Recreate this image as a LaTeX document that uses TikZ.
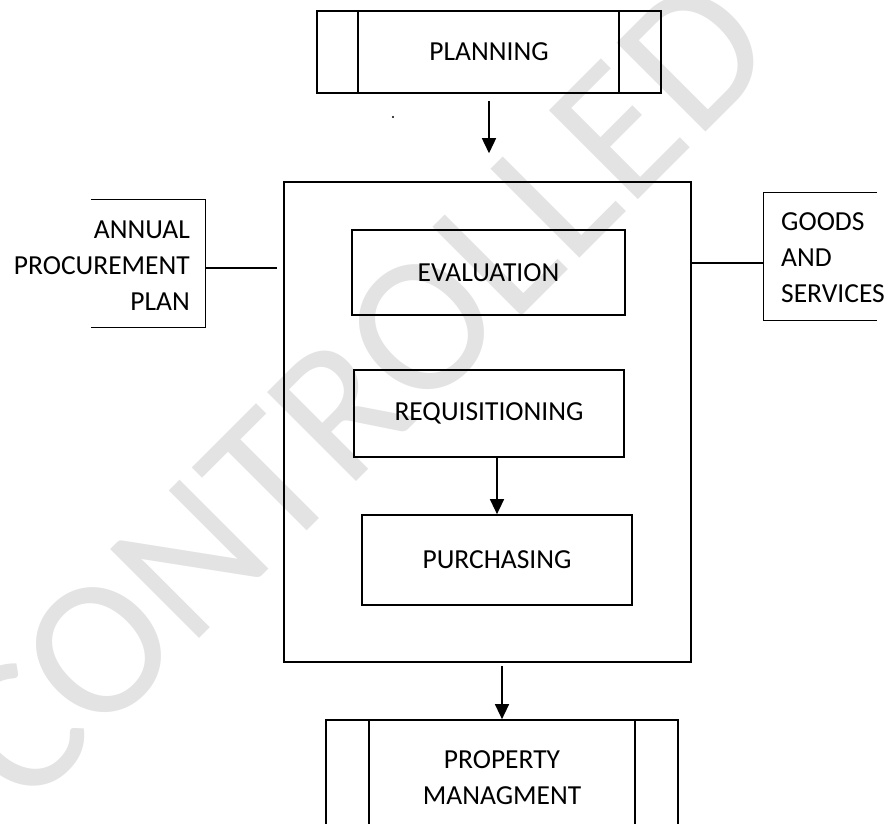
\documentclass[tikz,border=0pt]{standalone}
\usepackage{fontspec}
\setmainfont{Carlito}
\usetikzlibrary{arrows.meta}

\tikzset{
  lbl/.style={font=\fontsize{27.5}{36}\selectfont, align=center, inner sep=0pt},
  stepbox/.style={draw, line width=1.7pt, minimum width=#1, inner sep=0pt},
  frame/.style={draw, line width=1.5pt, inner sep=0pt},
  ghost/.style={inner sep=0pt},
  openline/.style={line width=1.3pt},
  conn/.style={line width=1.2pt},
  arr/.style={line width=1.4pt, -{Triangle[width=14pt,length=15pt]}},
  wmark/.style={text=black!11, font=\fontsize{196}{196}\selectfont, inner sep=0pt}
}

\begin{document}
\begin{tikzpicture}[x=1pt, y=-1pt]
\path[use as bounding box, clip] (0,0) rectangle (895,824);

% watermark behind the chart
\node[wmark, rotate=45] (stamp) at (359,390) {CONTROLLED};

% predefined-process boxes
\node[stepbox=344pt, minimum height=82pt] (plan) at (489,52) {};
\node[lbl] (plantext) at (plan.center) {PLANNING};
\draw[line width=1.7pt] ([xshift=42pt]plan.north west) -- ([xshift=42pt]plan.south west);
\draw[line width=1.7pt] ([xshift=-43pt]plan.north east) -- ([xshift=-43pt]plan.south east);
\fill (393,117) circle (1.2pt);

\node[stepbox=352pt, minimum height=120pt] (prop) at (502,780) {};
\node[lbl] (proptext) at (502,778) {PROPERTY\\MANAGMENT};
\draw[line width=1.7pt] ([xshift=44pt]prop.north west) -- ([xshift=44pt]prop.south west);
\draw[line width=1.7pt] ([xshift=-44pt]prop.north east) -- ([xshift=-44pt]prop.south east);

% main process frame with its steps
\node[frame, minimum width=407pt, minimum height=480pt] (main) at (487.5,422) {};
\node[stepbox=273pt, minimum height=85pt] (eval) at (488.5,272.5) {};
\node[lbl] at (eval.center) {EVALUATION};
\node[stepbox=270pt, minimum height=87pt] (req) at (489,413.5) {};
\node[lbl] at (req.center) {REQUISITIONING};
\node[stepbox=270pt, minimum height=90pt] (pur) at (497,560) {};
\node[lbl] at (pur.center) {PURCHASING};

% side inputs and outputs (open boxes)
\node[ghost, minimum width=114pt, minimum height=127pt] (apl) at (148,263.5) {};
\draw[openline] (apl.north west) -- (apl.north east) -- (apl.south east) -- (apl.south west);
\node[lbl, align=right, anchor=east] (apltext) at (190,266) {ANNUAL\\PROCUREMENT\\PLAN};

\node[ghost, minimum width=113pt, minimum height=127pt] (gsv) at (820.5,256.5) {};
\draw[openline] (gsv.north east) -- (gsv.north west) -- (gsv.south west) -- (gsv.south east);
\node[lbl, align=left, anchor=west] (gsvtext) at (781,258) {GOODS\\AND\\SERVICES};

% connectors
\draw[conn] ([yshift=-4.5pt]apl.east) -- ([yshift=-4.5pt, xshift=-6pt]apl.east -| main.west);
\draw[conn] ([yshift=-6.5pt]gsv.west) -- ([yshift=-6.5pt]gsv.west -| main.east);
\draw[arr] ([yshift=-7pt]plan.south) -- ([yshift=28pt]plan.south |- main.north);
\draw[arr] (req.south -| pur.north) -- (pur.north);
\draw[arr] ([yshift=-3pt]main.south -| prop.north) -- (prop.north);
\end{tikzpicture}
\end{document}
